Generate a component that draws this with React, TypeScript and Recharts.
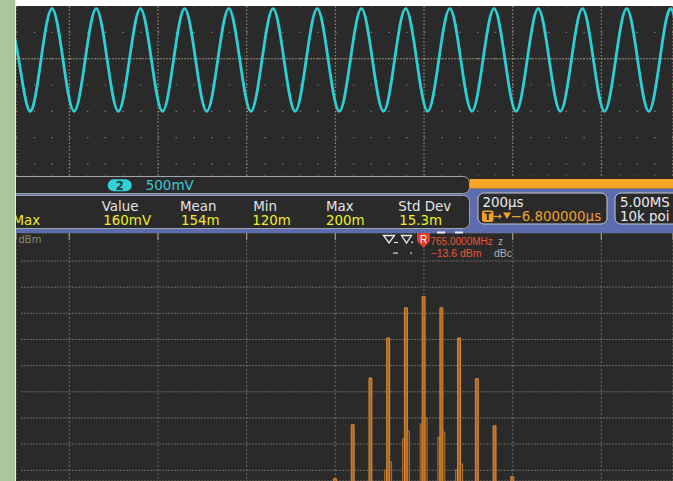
import React from 'react';
import { LineChart, Line, ComposedChart, Bar, XAxis, YAxis, CartesianGrid, ReferenceLine } from 'recharts';

// ---- Channel 2 time-domain trace (µs, mV), read at peaks / zero crossings / troughs
const waveTimesUs = [
  -938.8, -913.9, -888.9, -864.0, -839.1, -814.2, -789.2, -764.3, -739.4, -714.5,
  -689.5, -664.6, -639.7, -614.8, -589.8, -564.9, -540.0, -515.1, -490.1, -465.2,
  -440.3, -415.4, -390.4, -365.5, -340.6, -315.7, -290.7, -265.8, -240.9, -216.0,
  -191.0, -166.1, -141.2, -116.3, -91.3, -66.4, -41.5, -16.6, 8.4, 33.3,
  58.2, 83.1, 108.1, 133.0, 157.9, 182.8, 207.8, 232.7, 257.6, 282.5,
  307.5, 332.4, 357.3, 382.2, 407.2, 432.1, 457.0, 481.9, 506.9, 531.8,
  556.7, 581.6, 606.6,
];
const waveMilliVolts = [
  950, -25, -1000, -25, 950, -25, -1000, -25, 950, -25,
  -1000, -25, 950, -25, -1000, -25, 950, -25, -1000, -25,
  950, -25, -1000, -25, 950, -25, -1000, -25, 950, -25,
  -1000, -25, 950, -25, -1000, -25, 950, -25, -1000, -25,
  950, -25, -1000, -25, 950, -25, -1000, -25, 950, -25,
  -1000, -25, 950, -25, -1000, -25, 950, -25, -1000, -25,
  950, -25, -1000,
];
const timeGridTicks = [-800, -600, -400, -200, 0, 200, 400];
const voltGridTicks = [1000, 500, 0, -500, -1000, -1500, -2000];

// ---- Spectrum (offset from 765 MHz in kHz, level dBm)
const spectrumOffsetsKHz = [-50, -40, -30, -20, -10, 0, 10, 20, 30, 40, 50];
const carrierLevelsDbm = [-83.2, -62.6, -44.7, -29.4, -17.9, -13.6, -17.9, -29.4, -45.0, -63.0, -82.4];
const lowerSpurLevelsDbm = [null, null, null, -80.0, -68.0, -62.3, -67.3, -79.9, null, null, null];
const upperSpurLevelsDbm = [null, null, null, -76.8, -65.0, -60.0, -65.4, -77.6, null, null, null];
const freqGridTicks = [-200, -150, -100, -50, 0, 50, 100];
const dbmGridTicks = [0, -10, -20, -30, -40, -50, -60, -70, -80];
const FLOOR_DBM = -120;

// ---- Measurement table texts
const measureHeaders = ['Value', 'Mean', 'Min', 'Max', 'Std Dev'];
const measureValues = ['160mV', '154m', '120m', '200m', '15.3m'];
const headerX = [101.7, 180, 253.3, 326, 398.3];
const valueX = [103.3, 181, 252.3, 326, 399.3];

const waveData = waveTimesUs.map((t, i) => ({ t, v: waveMilliVolts[i] }));
const spectrumData = spectrumOffsetsKHz.map((f, i) => ({
  f,
  lo: lowerSpurLevelsDbm[i] == null ? [FLOOR_DBM, FLOOR_DBM] : [FLOOR_DBM, lowerSpurLevelsDbm[i]],
  main: [FLOOR_DBM, carrierLevelsDbm[i]],
  hi: upperSpurLevelsDbm[i] == null ? [FLOOR_DBM, FLOOR_DBM] : [FLOOR_DBM, upperSpurLevelsDbm[i]],
}));

const BG = '#2a2a2a';
const GRID = '#7c7767';
const SGRID = '#6c685d';
const FONT = "'DejaVu Sans', sans-serif";

const topH = (p: any) => (
  <line key={`th-${p.y1}`} x1={p.x1} y1={p.y1} x2={p.x2} y2={p.y2} stroke={GRID} strokeWidth={1.2} strokeDasharray="1.5 16.23" />
);
const topV = (p: any) => (
  <line key={`tv-${p.x1}`} x1={p.x1} y1={p.y1} x2={p.x2} y2={p.y2} stroke="#9a937a" strokeWidth={1.1} strokeDasharray="1.5 2" />
);
const spH = (p: any) => (
  <line key={`sh-${p.y1}`} x1={p.x1 + 5} y1={p.y1} x2={p.x2} y2={p.y2} stroke={SGRID} strokeWidth={1} strokeDasharray="2 1" />
);
const spV = (p: any) => (
  <g key={`sv-${p.x1}`}>
    <line x1={p.x1} y1={p.y1} x2={p.x2} y2={p.y2} stroke={SGRID} strokeWidth={1} strokeDasharray="2 2" />
    <line x1={p.x1} y1={p.y1} x2={p.x1} y2={p.y1 + 7} stroke="#959079" strokeWidth={1.3} />
  </g>
);

export default function App() {
  return (
    <div style={{ position: 'absolute', left: 0, top: 0, width: 673, height: 481, overflow: 'hidden', background: BG, fontFamily: FONT }}>
      {/* Time-domain panel */}
      <div style={{ position: 'absolute', left: 16, top: 6 }}>
        <LineChart width={657} height={170} data={waveData} margin={{ top: 0, right: 0, bottom: 0, left: 0 }}>
          <CartesianGrid horizontal={topH} vertical={topV} />
          <XAxis type="number" dataKey="t" domain={[-920.3, 561.6]} ticks={timeGridTicks} hide allowDataOverflow />
          <YAxis type="number" domain={[-2227, 1000]} ticks={voltGridTicks} hide allowDataOverflow />
          <ReferenceLine y={0} stroke="#958e76" strokeWidth={1.1} strokeDasharray="2 1" ifOverflow="hidden" />
          <Line dataKey="v" type="natural" stroke="#2bcfd4" strokeWidth={2.8} dot={false} isAnimationActive={false} />
        </LineChart>
      </div>

      {/* Spectrum panel */}
      <div style={{ position: 'absolute', left: 16, top: 233 }}>
        <ComposedChart width={657} height={248} data={spectrumData} margin={{ top: 0, right: 0, bottom: 0, left: 0 }} barGap={0}>
          <CartesianGrid horizontal={spH} vertical={spV} />
          <XAxis type="number" dataKey="f" domain={[-230.06, 140.41]} ticks={freqGridTicks} hide allowDataOverflow />
          <YAxis type="number" domain={[-84.1, 10.7]} ticks={dbmGridTicks} hide allowDataOverflow />
          <Bar dataKey="lo" barSize={2} fill="#5a3e24" stroke="#d8872e" strokeWidth={0.7} isAnimationActive={false} />
          <Bar dataKey="main" barSize={3} fill="#a8692e" stroke="#f29632" strokeWidth={0.8} isAnimationActive={false} />
          <Bar dataKey="hi" barSize={2} fill="#5a3e24" stroke="#e08c30" strokeWidth={0.7} isAnimationActive={false} />
        </ComposedChart>
      </div>

      {/* Instrument chrome and readouts */}
      <svg width={673} height={481} style={{ position: 'absolute', left: 0, top: 0, pointerEvents: 'none', fontFamily: FONT }}>
        <rect x={0} y={0} width={673} height={6} fill="#ffffff" />
        <rect x={16} y={176} width={657} height={57} fill={BG} />
        <rect x={16} y={188.5} width={657} height={44.5} fill="#5d6cae" />
        <rect x={470} y={179} width={203} height={9.5} fill="#f6a623" />

        {/* channel header box */}
        <path d="M -5 176.5 H 463.5 A 6 6 0 0 1 469.5 182.5 V 187.5 A 6 6 0 0 1 463.5 193.5 H -5 Z" fill={BG} stroke="#a3a3ab" strokeWidth={1} />
        <rect x={107.7} y={179.3} width={24} height={12} rx={6} fill="#33d0d8" />
        <text x={119.7} y={189.6} fontSize={11.5} fontWeight="bold" fill="#17393c" textAnchor="middle">2</text>
        <text x={145.7} y={190.3} fontSize={13.5} fill="#38c8d0">500mV</text>

        {/* measurement box */}
        <path d="M -5 195.5 H 463.5 A 6 6 0 0 1 469.5 201.5 V 222.5 A 6 6 0 0 1 463.5 228.5 H -5 Z" fill={BG} stroke="#a3a3ab" strokeWidth={1} />
        <text x={12.5} y={225} fontSize={13.4} fill="#eeee2a">Max</text>
        {measureHeaders.map((h, i) => (
          <text key={h} x={headerX[i]} y={210.5} fontSize={13.4} fill="#e4e4e4">{h}</text>
        ))}
        {measureValues.map((v, i) => (
          <text key={v} x={valueX[i]} y={225} fontSize={13.4} fill="#eeee2a">{v}</text>
        ))}

        {/* horizontal / trigger box */}
        <rect x={478} y={193} width={129} height={31} rx={6} fill={BG} stroke="#c6c6d2" strokeWidth={1} />
        <text x={482.5} y={206.5} fontSize={13.4} fill="#ececec">200µs</text>
        <rect x={482} y={210.5} width={11.5} height={11.5} rx={2} fill="#f0a030" />
        <text x={487.75} y={220} fontSize={10} fontWeight="bold" fill="#2a2a2a" textAnchor="middle">T</text>
        <line x1={494} y1={216.5} x2={500} y2={216.5} stroke="#f0a030" strokeWidth={1.3} />
        <polygon points="499,214 502,216.5 499,219" fill="#f0a030" />
        <polygon points="503,212.5 511,212.5 507,219" fill="#f0a030" />
        <text x={510.5} y={221} fontSize={13.4} fill="#f0a030">−6.800000µs</text>

        {/* acquisition box */}
        <rect x={615} y={193} width={80} height={31} rx={6} fill={BG} stroke="#c6c6d2" strokeWidth={1} />
        <text x={620} y={206.5} fontSize={13.4} fill="#ececec">5.00MS</text>
        <text x={620} y={221} fontSize={13.4} fill="#ececec">10k poi</text>

        {/* spectrum annotations */}
        <text x={18.5} y={243} fontSize={10} fill="#8a887c">dBm</text>
        <rect x={437} y={231.5} width={8} height={2} fill="#e8e8f0" />
        <rect x={455} y={231.5} width={8} height={2} fill="#e8e8f0" />
        <polygon points="383.5,235.5 394.5,235.5 389,243" fill="none" stroke="#f0f0f0" strokeWidth={1.3} />
        <line x1={394} y1={242.5} x2={398} y2={242.5} stroke="#f0f0f0" strokeWidth={1} />
        <polygon points="401.5,235.5 411.5,235.5 406.5,243" fill="none" stroke="#f0f0f0" strokeWidth={1.3} />
        <rect x={411.5} y={241.5} width={1.5} height={1.5} fill="#f0f0f0" />
        <rect x={393} y={252.5} width={5} height={1.2} fill="#d8d8d8" />
        <rect x={410} y={252.5} width={2} height={1.2} fill="#d8d8d8" />
        <polygon points="417,233 430,233 430,241 423.5,248 417,241" fill="#e23c2a" />
        <text x={423.5} y={242.5} fontSize={10} fill="#ffffff" textAnchor="middle" fontFamily="'Liberation Sans', sans-serif">R</text>
        <text x={430.5} y={244.7} fontSize={10} fill="#e8562e" fontFamily="'Liberation Sans', sans-serif">765.0000MHz</text>
        <text x={498} y={244.7} fontSize={10} fill="#a8a8a8" fontFamily="'Liberation Sans', sans-serif">z</text>
        <text x={430.5} y={256.5} fontSize={10.5} fill="#e8562e" fontFamily="'Liberation Sans', sans-serif">−13.6 dBm</text>
        <text x={494} y={256.5} fontSize={10.5} fill="#b0b0b0" fontFamily="'Liberation Sans', sans-serif">dBc</text>

        {/* left frame strip */}
        <rect x={0} y={0} width={15} height={481} fill="#a9c69d" />
        <rect x={15} y={0} width={1} height={481} fill="#e6eee2" />
      </svg>
    </div>
  );
}
